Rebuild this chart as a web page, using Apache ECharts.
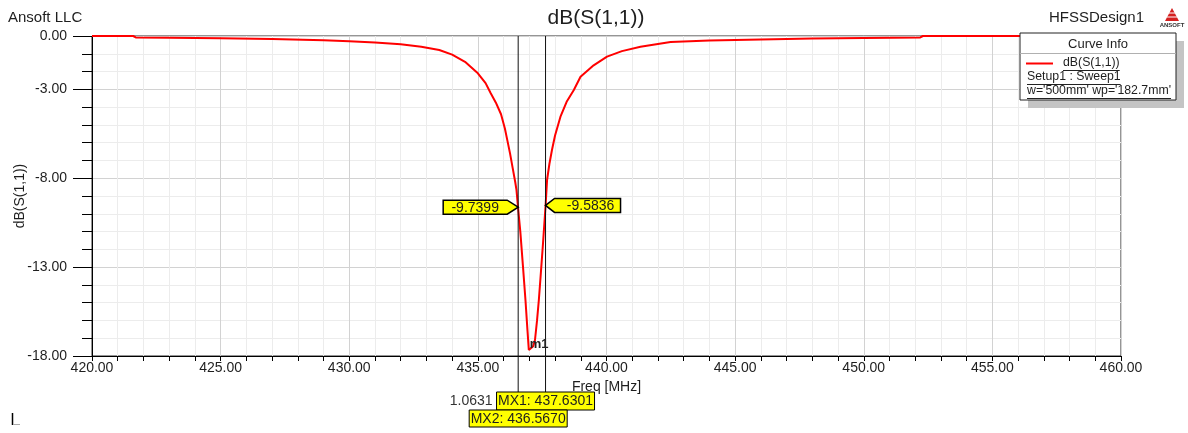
<!DOCTYPE html>
<html>
<head>
<meta charset="utf-8">
<script src="https://cdn.jsdelivr.net/npm/echarts@6/dist/echarts.min.js"></script>
<style>
  html, body { margin: 0; padding: 0; background: #fff; }
  #chart { width: 1188px; height: 433px; }
</style>
</head>
<body>
<div id="chart"></div>
<script>
// Sweep of dB(S(1,1)) versus frequency (MHz)
const freqMHz = [
  420.0, 421.6, 421.7, 423.0, 425.0, 427.0, 429.0, 430.0, 431.0, 432.0,
  432.8, 433.5, 434.0, 434.5, 435.0, 435.3, 435.5, 435.7, 435.9, 436.05,
  436.15, 436.25, 436.35, 436.45, 436.5, 436.567, 436.65, 436.75, 436.85, 436.93,
  436.98, 437.05, 437.15, 437.22, 437.3, 437.37, 437.45, 437.53, 437.6301, 437.69,
  437.78, 437.88, 438.0, 438.21, 438.45, 438.73, 438.99, 439.5, 440.02, 440.6,
  441.32, 442.49, 444.0, 446.0, 448.0, 450.0, 452.2, 452.3, 456.0, 460.0
];
const s11dB = [
  0.00, 0.00, -0.08, -0.10, -0.13, -0.17, -0.24, -0.29, -0.37, -0.47,
  -0.60, -0.79, -1.05, -1.45, -2.10, -2.65, -3.22, -3.75, -4.40, -5.20,
  -5.90, -6.60, -7.40, -8.20, -8.66, -9.7399, -11.0, -12.9, -14.85, -16.6,
  -17.66, -17.62, -17.45, -17.1, -16.0, -14.85, -13.3, -11.7, -9.5836, -8.1,
  -7.2, -6.41, -5.6, -4.54, -3.7, -3.04, -2.29, -1.65, -1.16, -0.85,
  -0.60, -0.34, -0.26, -0.19, -0.14, -0.11, -0.08, 0.00, 0.00, 0.00
];

// Markers: MX2 / MX1 frequencies and their read-outs
const markerNames = ['MX2', 'MX1'];
const markerFreq = [436.5670, 437.6301];
const markerDb = [-9.7399, -9.5836];
const minMarkerName = 'm1';

// Axis ticks
const xMin = 420, xMax = 460;
const yMin = -18, yMax = 0;
const yMajorTicks = [0, -3, -8, -13, -18];

// Header, axis and legend texts
const titleText = 'dB(S(1,1))';
const companyText = 'Ansoft LLC';
const designText = 'HFSSDesign1';
const yAxisTitle = 'dB(S(1,1))';
const xAxisTitle = 'Freq [MHz]';
const legendTitle = 'Curve Info';
const legendLines = ['dB(S(1,1))', 'Setup1 : Sweep1', "w='500mm' wp='182.7mm'"];

const FONT = "'Liberation Sans', Arial, sans-serif";
const TXT = '#1e1e1e';

const chart = echarts.init(document.getElementById('chart'), null, { renderer: 'canvas' });

const seriesData = freqMHz.map((f, i) => [f, s11dB[i]]);

chart.setOption({
  animation: false,
  backgroundColor: '#ffffff',
  grid: {
    left: 92, top: 36, right: 67, bottom: 77, containLabel: false, outerBoundsMode: 'none',
    show: true, borderColor: '#2a2a2a', borderWidth: 1, backgroundColor: 'transparent'
  },
  xAxis: [
    {
      type: 'value', min: xMin, max: xMax, interval: 1, position: 'bottom',
      axisLine: { show: true, onZero: false, lineStyle: { color: '#000', width: 1 } },
      axisTick: { show: true, length: 5, lineStyle: { color: '#000' } },
      axisLabel: { show: false },
      splitLine: { show: true, lineStyle: { color: '#ececec', width: 1 } }
    },
    {
      type: 'value', min: xMin, max: xMax, interval: 5, position: 'bottom', offset: 0,
      axisLine: { show: false },
      axisTick: { show: false },
      axisLabel: { show: true, margin: 5, fontSize: 14, color: TXT, fontFamily: FONT, formatter: v => v.toFixed(2) },
      splitLine: { show: true, lineStyle: { color: '#d2d2d2', width: 1 } },
      name: xAxisTitle, nameLocation: 'middle', nameGap: 18,
      nameTextStyle: { fontSize: 14, color: TXT, fontFamily: FONT }
    }
  ],
  yAxis: [
    {
      type: 'value', min: yMin, max: yMax, interval: 1, position: 'left',
      axisLine: { show: true, onZero: false, lineStyle: { color: '#000', width: 1 } },
      axisTick: { show: true, length: 10, lineStyle: { color: '#000' } },
      axisLabel: { show: false },
      splitLine: { show: true, lineStyle: { color: '#ececec', width: 1 } }
    },
    {
      type: 'value', min: yMin, max: yMax, position: 'left', offset: 0,
      axisLine: { show: false },
      axisTick: { show: true, length: 19, customValues: yMajorTicks, lineStyle: { color: '#000' } },
      axisLabel: { show: true, margin: 25, customValues: yMajorTicks, fontSize: 14, color: TXT, fontFamily: FONT, formatter: v => v.toFixed(2) },
      splitLine: { show: true, lineStyle: { color: '#d2d2d2', width: 1 } }
    }
  ],
  series: [{
    type: 'line', xAxisIndex: 0, yAxisIndex: 0,
    data: seriesData, showSymbol: false, clip: false, z: 5,
    lineStyle: { color: '#ff0000', width: 2 }
  }]
});

// Text width helper for underlines
const measureCtx = document.createElement('canvas').getContext('2d');
function textWidth(str, size) {
  measureCtx.font = size + 'px ' + FONT;
  return measureCtx.measureText(str).width;
}

function txt(text, x, y, size, opts) {
  opts = opts || {};
  return {
    type: 'text', z: 50, silent: true,
    style: {
      text: text, x: x, y: y, fill: opts.fill || TXT,
      font: (opts.weight || 'normal') + ' ' + size + 'px ' + FONT,
      textAlign: opts.align || 'left', textVerticalAlign: opts.valign || 'middle',
      align: opts.align || 'left', verticalAlign: opts.valign || 'middle'
    }
  };
}
function line(x1, y1, x2, y2, color, width, z) {
  return { type: 'line', z: z || 40, silent: true, shape: { x1, y1, x2, y2 }, style: { stroke: color, lineWidth: width } };
}

const gfx = [];
const plotTop = chart.convertToPixel({ xAxisIndex: 0, yAxisIndex: 0 }, [xMin, yMax])[1];
const plotBottom = chart.convertToPixel({ xAxisIndex: 0, yAxisIndex: 0 }, [xMin, yMin])[1];
const boxTop = 392;

// Header texts
gfx.push(txt(companyText, 8, 18, 15));
gfx.push(txt(titleText, 596, 18, 21, { align: 'center' }));
gfx.push(txt(designText, 1049, 18, 15));

// Vertical axis title
gfx.push({
  type: 'text', z: 50, silent: true, x: 20, y: (plotTop + plotBottom) / 2, rotation: Math.PI / 2,
  style: { text: yAxisTitle, x: 0, y: 0, fill: TXT, font: '14px ' + FONT, textAlign: 'center', textVerticalAlign: 'middle', align: 'center', verticalAlign: 'middle' }
});

// Small vendor logo
gfx.push({ type: 'polygon', z: 50, silent: true, shape: { points: [[1172, 8], [1165, 21], [1179, 21]] }, style: { fill: '#d42020' } });
gfx.push(line(1167, 17, 1177, 17, '#ffffff', 1, 51));
gfx.push(line(1169, 13, 1175, 13, '#ffffff', 1, 51));
gfx.push(txt('ANSOFT', 1172, 25, 6, { align: 'center', weight: 'bold', fill: '#333' }));

// Marker vertical lines, value callouts and read-out boxes
const px = markerFreq.map((f, i) => chart.convertToPixel({ xAxisIndex: 0, yAxisIndex: 0 }, [f, markerDb[i]]));
px.forEach(p => gfx.push(line(p[0], plotTop, p[0], boxTop, '#111', 1, 30)));

// MX2 callout pointing right (left of curve)
(function () {
  const tx = px[0][0], ty = px[0][1] - 2;
  const pts = [[tx, ty], [tx - 11, ty - 7], [tx - 75, ty - 7], [tx - 75, ty + 7], [tx - 11, ty + 7]];
  gfx.push({ type: 'polygon', z: 45, silent: true, shape: { points: pts }, style: { fill: '#ffff00', stroke: '#000', lineWidth: 1.5 } });
  gfx.push(txt(markerDb[0].toFixed(4), tx - 43, ty + 0.5, 14, { align: 'center' }));
})();
// MX1 callout pointing left (right of curve)
(function () {
  const tx = px[1][0], ty = px[1][1] - 1;
  const pts = [[tx, ty], [tx + 9, ty - 7], [tx + 75, ty - 7], [tx + 75, ty + 7], [tx + 9, ty + 7]];
  gfx.push({ type: 'polygon', z: 45, silent: true, shape: { points: pts }, style: { fill: '#ffff00', stroke: '#000', lineWidth: 1.5 } });
  gfx.push(txt(markerDb[1].toFixed(4), tx + 45, ty + 0.5, 14, { align: 'center' }));
})();

// Read-out boxes under the frequency axis
[[1, boxTop, 18], [0, boxTop + 18, 17]].forEach(([i, top, h]) => {
  const label = markerNames[i] + ': ' + markerFreq[i].toFixed(4);
  const w = 98;
  gfx.push({ type: 'rect', z: 46, silent: true, shape: { x: px[i][0] - w / 2, y: top, width: w, height: h }, style: { fill: '#ffff00', stroke: '#000', lineWidth: 1 } });
  gfx.push(txt(label, px[i][0], top + h / 2 + 0.5, 14, { align: 'center' }));
});
gfx.push(txt((markerFreq[1] - markerFreq[0]).toFixed(4), px[1][0] - 53, boxTop + 9, 14, { align: 'right', fill: '#333' }));

// Minimum marker label
(function () {
  let k = 0;
  s11dB.forEach((v, i) => { if (v < s11dB[k]) k = i; });
  const p = chart.convertToPixel({ xAxisIndex: 0, yAxisIndex: 0 }, [freqMHz[k], s11dB[k]]);
  gfx.push(txt(minMarkerName, p[0] + 1, p[1] - 6, 13, { weight: 'bold', fill: '#222' }));
})();

// Curve Info legend
const LEG_FS = 12.3;
const L = { x: 1020, y: 33, w: 156, h: 67 };
gfx.push({ type: 'rect', z: 47, silent: true, shape: { x: L.x + 8, y: L.y + 8, width: L.w, height: L.h }, style: { fill: '#c4c4c4' } });
gfx.push({ type: 'rect', z: 48, silent: true, shape: { x: L.x, y: L.y, width: L.w, height: L.h }, style: { fill: '#ffffff', stroke: '#222', lineWidth: 1 } });
gfx.push(txt(legendTitle, L.x + L.w / 2, 44, 13, { align: 'center' }));
gfx.push(line(L.x, 53.5, L.x + L.w, 53.5, '#b0b0b0', 1, 49));
gfx.push(line(1026, 63.5, 1053, 63.5, '#ff0000', 2, 49));
[[legendLines[0], 1063, 63], [legendLines[1], 1027, 77], [legendLines[2], 1027, 91]].forEach(([s, x, y]) => {
  gfx.push(txt(s, x, y, LEG_FS));
  gfx.push(line(x, y + 7.5, x + textWidth(s, LEG_FS), y + 7.5, '#222', 1, 49));
});

// Small cursor mark at lower left
gfx.push(line(12.5, 413, 12.5, 425, '#000', 1.5));
gfx.push(line(13, 424.5, 20, 424.5, '#aaa', 1));

chart.setOption({ graphic: gfx });
</script>
</body>
</html>
